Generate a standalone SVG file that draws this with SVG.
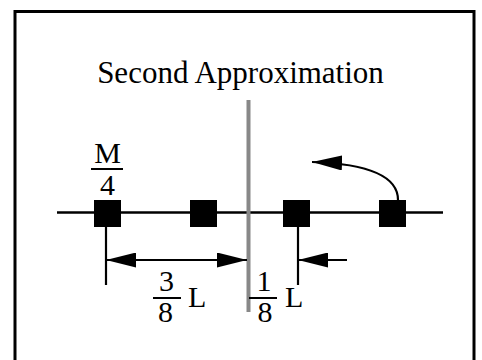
<svg xmlns="http://www.w3.org/2000/svg" width="482" height="360" viewBox="0 0 482 360">
<defs>
<style>
text{font-family:"Liberation Serif","Times New Roman",serif;fill:#000}
.t{font-size:31px}
.f{font-size:30px;text-anchor:middle}
.l{font-size:30px}
.ln{stroke:#000;stroke-width:2.5;fill:none}
.tk{stroke:#000;stroke-width:2.2;fill:none}
.bar{stroke:#000;stroke-width:2}
.mass{fill:#000}
</style>
<marker id="ah" viewBox="0 0 30 15" refX="30" refY="7.5" markerWidth="30" markerHeight="15" markerUnits="userSpaceOnUse" orient="auto-start-reverse">
<path d="M0,0 L30,7.5 L0,15 Z" fill="#000"/>
</marker>
</defs>
<rect x="0" y="0" width="482" height="360" fill="#fff"/>
<rect x="15" y="11.5" width="459" height="360" fill="none" stroke="#000" stroke-width="3"/>
<text class="t" x="240.5" y="83" text-anchor="middle">Second Approximation</text>
<line x1="57" y1="212.5" x2="443" y2="212.5" class="ln"/>
<line x1="248.5" y1="100" x2="248.5" y2="312" stroke="#888" stroke-width="4"/>
<g id="mass1"><rect class="mass" x="94" y="200" width="27" height="27"/></g>
<g id="mass2"><rect class="mass" x="190" y="200" width="27" height="27"/></g>
<g id="mass3"><rect class="mass" x="283" y="200" width="27" height="27"/></g>
<g id="mass4"><rect class="mass" x="379" y="200" width="27" height="27"/></g>
<g id="connectors">
<line x1="106" y1="227" x2="106" y2="285" class="tk"/>
<line x1="298" y1="227" x2="298" y2="285" class="tk"/>
<line x1="106" y1="260" x2="247" y2="260" class="tk" marker-start="url(#ah)" marker-end="url(#ah)"/>
<line x1="347" y1="260" x2="298" y2="260" class="tk" marker-end="url(#ah)"/>
<path d="M398,200 C398,178 372,164 312,162" class="tk" marker-end="url(#ah)"/>
</g>
<g id="label-m4">
<text class="f" x="107.5" y="163">M</text>
<line class="bar" x1="91" y1="169" x2="123" y2="169"/>
<text class="f" x="107.5" y="195">4</text>
</g>
<g id="label-38L">
<text class="f" x="166.5" y="291">3</text>
<line class="bar" x1="153" y1="298" x2="181" y2="298"/>
<text class="f" x="165.5" y="322">8</text>
<text class="l" x="188" y="307">L</text>
</g>
<g id="label-18L">
<text class="f" x="264" y="291">1</text>
<line class="bar" x1="249" y1="298" x2="277" y2="298"/>
<text class="f" x="265" y="322">8</text>
<text class="l" x="285" y="307">L</text>
</g>
</svg>
